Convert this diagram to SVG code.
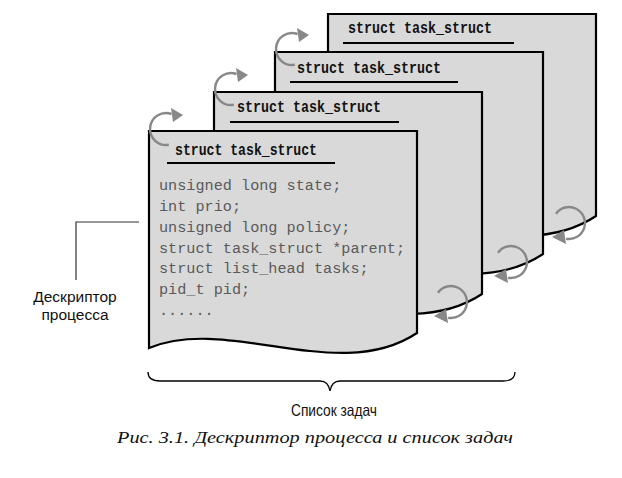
<svg xmlns="http://www.w3.org/2000/svg" width="622" height="478" viewBox="0 0 622 478">
<defs>
<style>
.page{fill:#d9d9d9;stroke:#000;stroke-width:2.2;stroke-linejoin:miter}
.title{font-family:"Liberation Mono",monospace;font-weight:bold;font-size:16.5px;fill:#111}
.uline{stroke:#000;stroke-width:2}
.code{font-family:"Liberation Mono",monospace;font-size:15.2px;fill:#5a5a5a}
.arc{fill:none;stroke:#888;stroke-width:2.4}
.head{fill:#888}
.lbl{font-family:"Liberation Sans",Arial,sans-serif;font-size:15.5px;fill:#111}
.cap{font-family:"Liberation Serif","Times New Roman",serif;font-style:italic;font-size:17.5px;fill:#111}
.lead{fill:none;stroke:#333;stroke-width:1.2}
</style>
<path id="doc" d="M0,0 H268 V202 C190,254 80,184 0,217 Z"/>
</defs>
<rect width="622" height="478" fill="#fff"/>

<g id="page4" transform="translate(328,14)">
<use href="#doc" class="page"/>
<text class="title" x="20" y="19" textLength="144" lengthAdjust="spacingAndGlyphs">struct task_struct</text>
<line class="uline" x1="15" y1="29" x2="186" y2="29"/>
</g>
<g id="page3" transform="translate(275,52)">
<use href="#doc" class="page"/>
<text class="title" x="22" y="21" textLength="144" lengthAdjust="spacingAndGlyphs">struct task_struct</text>
<line class="uline" x1="15" y1="30" x2="183" y2="30"/>
</g>
<g id="page2" transform="translate(214,92)">
<use href="#doc" class="page"/>
<text class="title" x="23" y="20" textLength="144" lengthAdjust="spacingAndGlyphs">struct task_struct</text>
<line class="uline" x1="16" y1="30" x2="185" y2="30"/>
</g>
<g id="page1" transform="translate(149,131)">
<use href="#doc" class="page"/>
<text class="title" x="26" y="24" textLength="142" lengthAdjust="spacingAndGlyphs">struct task_struct</text>
<line class="uline" x1="18" y1="32" x2="186" y2="32"/>
<text class="code" x="10" y="59">unsigned long state;</text>
<text class="code" x="10" y="80">int prio;</text>
<text class="code" x="10" y="101">unsigned long policy;</text>
<text class="code" x="10" y="122">struct task_struct *parent;</text>
<text class="code" x="10" y="142">struct list_head tasks;</text>
<text class="code" x="10" y="163">pid_t pid;</text>
<text class="code" x="10" y="184">......</text>
</g>

<g id="connectors">
<g transform="translate(166,129)">
<path class="arc" d="M2.8,15.8 A16,16 0 1 1 5.5,-15"/>
<polygon class="head" points="5,-21 17,-14 7,-7"/>
</g>
<g transform="translate(231,89)">
<path class="arc" d="M2.8,15.8 A16,16 0 1 1 5.5,-15"/>
<polygon class="head" points="5,-21 17,-14 7,-7"/>
</g>
<g transform="translate(292,49)">
<path class="arc" d="M2.8,15.8 A16,16 0 1 1 5.5,-15"/>
<polygon class="head" points="5,-21 17,-14 7,-7"/>
</g>
<g transform="translate(451,302)">
<path class="arc" d="M-13.1,-9.2 A16,16 0 1 1 -2.8,15.8"/>
<polygon class="head" points="-5,7 -17,14 -3,21"/>
</g>
<g transform="translate(511,262)">
<path class="arc" d="M-13.1,-9.2 A16,16 0 1 1 -2.8,15.8"/>
<polygon class="head" points="-5,7 -17,14 -3,21"/>
</g>
<g transform="translate(569,223)">
<path class="arc" d="M-13.1,-9.2 A16,16 0 1 1 -2.8,15.8"/>
<polygon class="head" points="-5,7 -17,14 -3,21"/>
</g>
<path class="lead" d="M139,222 H76 V280"/>
<path fill="none" stroke="#000" stroke-width="1.3" d="M148,372 C148,378 152,381 160,381 H320 C326,381 329,385 330,391 C331,385 334,381 340,381 H503 C511,381 515,378 515,372"/>
</g>

<g id="labels">
<text class="lbl" x="75" y="302" text-anchor="middle">Дескриптор</text>
<text class="lbl" x="75" y="320" text-anchor="middle">процесса</text>
<text class="lbl" x="334" y="416" text-anchor="middle" style="font-size:16.5px" textLength="86" lengthAdjust="spacingAndGlyphs">Список задач</text>
<text class="cap" x="315" y="443" text-anchor="middle" textLength="396" lengthAdjust="spacingAndGlyphs">Рис. 3.1. Дескриптор процесса и список задач</text>
</g>
</svg>
